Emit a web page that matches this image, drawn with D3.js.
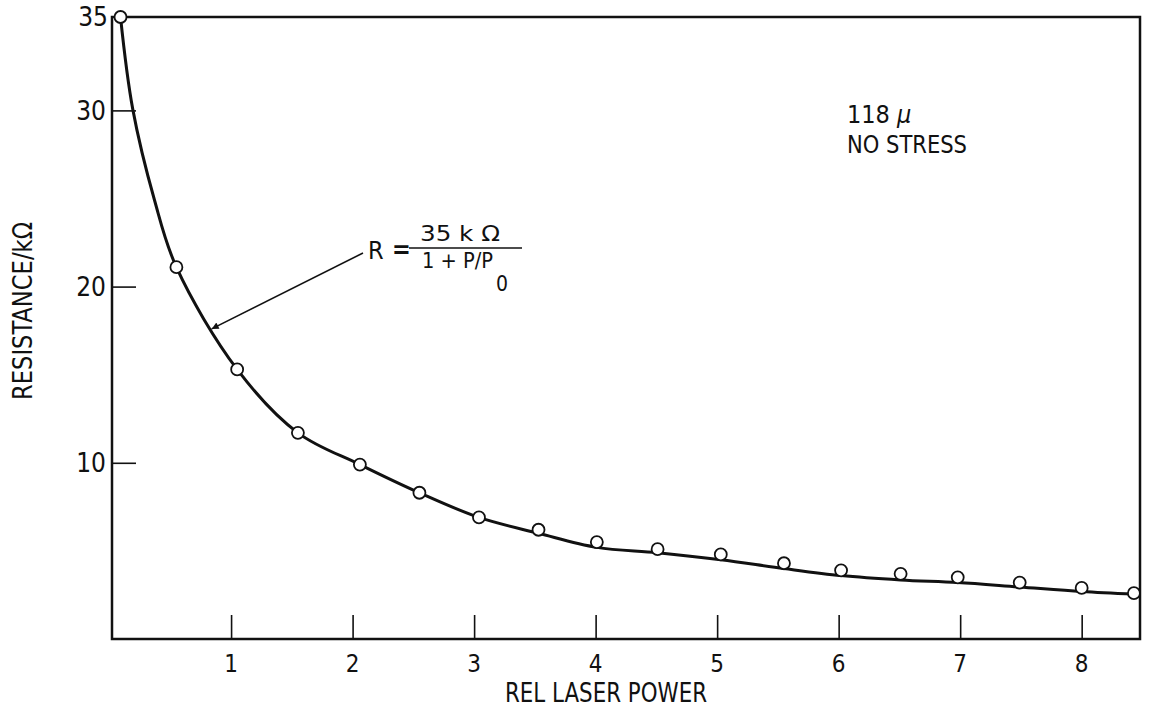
<!DOCTYPE html>
<html>
<head>
<meta charset="utf-8">
<script src="https://cdn.jsdelivr.net/npm/d3@7"></script>
<style>
  body { margin: 0; background: #fff; }
  svg text { font-family: "Liberation Sans Narrow", "DejaVu Sans Condensed", "Arial Narrow", sans-serif; fill: #111; }
</style>
</head>
<body>
<div id="chart"></div>
<script>
/// measured points (circles)
var powerPts = [0.09, 0.55, 1.05, 1.55, 2.06, 2.55, 3.04, 3.53, 4.01, 4.51, 5.03, 5.55, 6.02, 6.51, 6.98, 7.49, 8.00, 8.43];
var resPts   = [35.3, 21.1, 15.3, 11.7, 9.9, 8.3, 6.9, 6.2, 5.5, 5.1, 4.8, 4.3, 3.9, 3.7, 3.5, 3.2, 2.9, 2.6];

/// fitted curve
var curveP = [0.09, 0.19, 0.37, 0.55, 1.05, 1.55, 2.06, 2.55, 3.04, 3.53, 4.01, 4.51, 5.03, 5.55, 6.02, 6.51, 6.98, 7.49, 8.00, 8.43];
var curveR = [35.3, 30.1, 24.9, 21.1, 15.3, 11.7, 9.9, 8.3, 6.9, 6.0, 5.2, 4.9, 4.5, 4.0, 3.6, 3.35, 3.2, 2.95, 2.7, 2.55];

/// where the formula arrow touches the curve
var arrowTip = [0.84, 17.6];

/// ticks
var xTickValues = [1, 2, 3, 4, 5, 6, 7, 8];
var yTickValues = [10, 20, 30];
var yTopLabel = "35";

/// texts
var xTitle = "REL LASER POWER",
    yTitle = "RESISTANCE/kΩ";

var W = 1154, H = 710;
var plot = {left: 112, right: 1140, top: 17, bottom: 639};

var svg = d3.select("#chart").append("svg")
            .attr("width", W)
            .attr("height", H);

var x = d3.scaleLinear().domain([0.02, 8.48]).range([plot.left, plot.right]);
var y = d3.scaleLinear().domain([0, 35.3]).range([plot.bottom, plot.top]);

// frame
svg.append("rect")
   .attr("x", plot.left)
   .attr("y", plot.top)
   .attr("width", plot.right - plot.left)
   .attr("height", plot.bottom - plot.top)
   .style("fill", "none")
   .style("stroke", "#111")
   .style("stroke-width", 2.5);

// inner ticks, x
var xAxis = svg.append("g")
               .attr("transform", "translate(0," + plot.bottom + ")")
               .call(d3.axisTop(x).tickValues(xTickValues).tickSize(24).tickFormat(""));
xAxis.select(".domain").remove();
xAxis.selectAll("line").style("stroke", "#111").style("stroke-width", 1.6);

svg.selectAll(".xlab")
   .data(xTickValues)
   .enter()
   .append("text")
   .attr("class", "xlab")
   .attr("x", d => x(d))
   .attr("y", 672)
   .attr("text-anchor", "middle")
   .style("font-size", "24px")
   .style("font-weight", 500)
   .text(d => d);

// inner ticks, y
var yAxis = svg.append("g")
               .attr("transform", "translate(" + plot.left + ",0)")
               .call(d3.axisRight(y).tickValues(yTickValues).tickSize(24).tickFormat(""));
yAxis.select(".domain").remove();
yAxis.selectAll("line").style("stroke", "#111").style("stroke-width", 1.6);

svg.selectAll(".ylab")
   .data(yTickValues)
   .enter()
   .append("text")
   .attr("class", "ylab")
   .attr("x", 106)
   .attr("y", d => y(d))
   .attr("dy", "0.36em")
   .attr("text-anchor", "end")
   .style("font-size", "26px")
   .style("font-weight", 500)
   .text(d => d);

svg.append("text")
   .attr("x", 108)
   .attr("y", plot.top)
   .attr("dy", "0.36em")
   .attr("text-anchor", "end")
   .style("font-size", "26px")
   .style("font-weight", 500)
   .text(yTopLabel);

// axis titles
svg.append("text")
   .attr("x", 505)
   .attr("y", 702)
   .attr("textLength", 202)
   .attr("lengthAdjust", "spacingAndGlyphs")
   .style("font-size", "27px")
   .text(xTitle);

svg.append("text")
   .attr("transform", "translate(32,311) rotate(-90)")
   .attr("text-anchor", "middle")
   .attr("textLength", 178)
   .attr("lengthAdjust", "spacingAndGlyphs")
   .style("font-size", "27px")
   .text(yTitle);

// fitted curve
var curveData = curveP.map((p, i) => ({p: p, r: curveR[i]}));
svg.append("path")
   .datum(curveData)
   .attr("d", d3.line().x(d => x(d.p)).y(d => y(d.r)).curve(d3.curveCatmullRom.alpha(0.5)))
   .style("fill", "none")
   .style("stroke", "#111")
   .style("stroke-width", 3);

// measured points
var ptData = powerPts.map((p, i) => ({p: p, r: resPts[i]}));
svg.selectAll(".pt")
   .data(ptData)
   .enter()
   .append("circle")
   .attr("class", "pt")
   .attr("cx", d => x(d.p))
   .attr("cy", d => y(d.r))
   .attr("r", 6)
   .style("fill", "#fff")
   .style("stroke", "#111")
   .style("stroke-width", 1.8);

// arrow pointing at the curve
svg.append("defs").append("marker")
   .attr("id", "head")
   .attr("viewBox", "0 0 10 10")
   .attr("refX", 10)
   .attr("refY", 5)
   .attr("markerUnits", "userSpaceOnUse")
   .attr("markerWidth", 16)
   .attr("markerHeight", 7)
   .attr("orient", "auto")
   .append("path")
   .attr("d", "M0,0L10,5L0,10Z")
   .style("fill", "#111");

svg.append("line")
   .attr("x1", 363).attr("y1", 253)
   .attr("x2", x(arrowTip[0])).attr("y2", y(arrowTip[1]))
   .attr("marker-end", "url(#head)")
   .style("stroke", "#111")
   .style("stroke-width", 1.6);

// formula
var F = svg.append("g");
F.append("text").attr("x", 368).attr("y", 259).style("font-size", "25px").text("R");
F.append("text").attr("x", 392).attr("y", 258).style("font-size", "25px").style("font-weight", "bold").text("=");
F.append("text").attr("x", 420).attr("y", 241).style("font-size", "21px")
 .attr("textLength", 80).attr("lengthAdjust", "spacingAndGlyphs").text("35 k  Ω");
F.append("line").attr("x1", 409).attr("x2", 522).attr("y1", 248).attr("y2", 248)
 .style("stroke", "#111").style("stroke-width", 1.5);
F.append("text").attr("x", 422).attr("y", 268).style("font-size", "21px")
 .attr("textLength", 71).attr("lengthAdjust", "spacingAndGlyphs").text("1 + P/P");
F.append("text").attr("x", 496).attr("y", 291).style("font-size", "21px").text("0");

// note
var note1 = svg.append("text")
               .attr("x", 847)
               .attr("y", 123)
               .style("font-size", "25px");
note1.append("tspan").text("118 ");
note1.append("tspan").style("font-style", "italic").text("μ");

svg.append("text")
   .attr("x", 847)
   .attr("y", 153)
   .attr("textLength", 120)
   .attr("lengthAdjust", "spacingAndGlyphs")
   .style("font-size", "25px")
   .text("NO STRESS");
</script>
</body>
</html>
